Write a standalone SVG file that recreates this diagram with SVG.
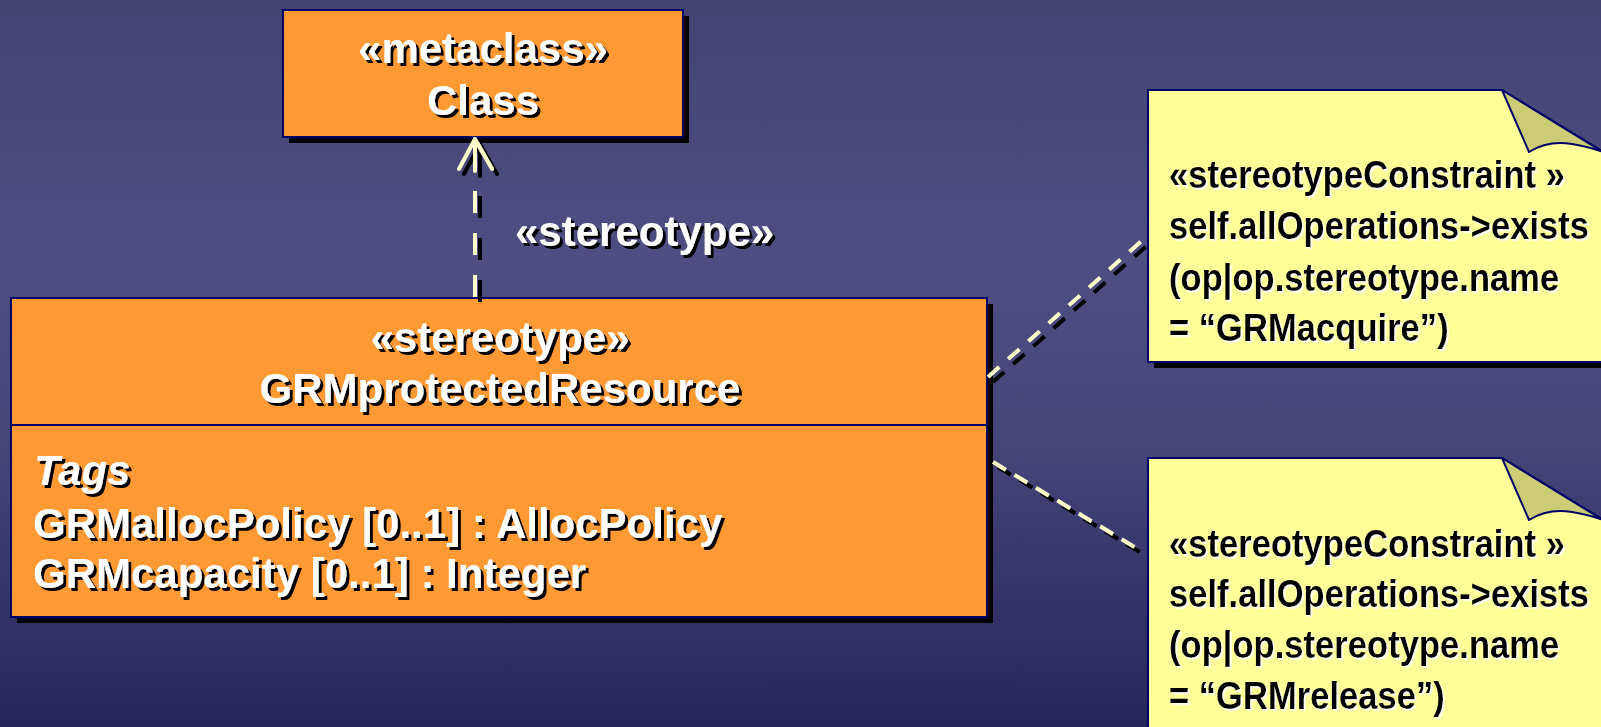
<svg xmlns="http://www.w3.org/2000/svg" width="1601" height="727" viewBox="0 0 1601 727">
  <defs>
    <linearGradient id="bg" x1="0" y1="0" x2="0" y2="1">
      <stop offset="0" stop-color="#434372"/>
      <stop offset="0.35" stop-color="#4E4E83"/>
      <stop offset="0.6" stop-color="#464679"/>
      <stop offset="0.82" stop-color="#34346A"/>
      <stop offset="1" stop-color="#26265A"/>
    </linearGradient>
    <!-- hard black shadow under white labels -->
    <filter id="darkShadow" x="-5%" y="-20%" width="110%" height="140%">
      <feDropShadow dx="3" dy="3" stdDeviation="0" flood-color="#000000" flood-opacity="1"/>
    </filter>
    <!-- light halo under note text -->
    <filter id="lightShadow" x="-5%" y="-20%" width="110%" height="140%">
      <feDropShadow dx="2" dy="2" stdDeviation="0" flood-color="#FFFFFF" flood-opacity="0.85"/>
    </filter>
    <!-- offset shadow for connector strokes -->
    <filter id="lineShadow" x="-20%" y="-20%" width="140%" height="140%">
      <feDropShadow dx="5" dy="5" stdDeviation="0" flood-color="#000000" flood-opacity="1"/>
    </filter>
  </defs>
  <style>
    .box { fill: #FF9933; stroke: #000066; stroke-width: 2; }
    .note { fill: #FFFF99; stroke: #000066; stroke-width: 2; }
    .fold { fill: #CCCC77; stroke: #000066; stroke-width: 2; stroke-linejoin: round; }
    .shadow { fill: #000000; }
    .divider { stroke: #000066; stroke-width: 2; }
    .wt { font-family: "Liberation Sans", Arial, sans-serif; font-weight: bold; font-size: 42px; fill: #FFFFFF; filter: url(#darkShadow); }
    .it { font-style: italic; }
    .mid { text-anchor: middle; }
    .nt { font-family: "Liberation Sans", Arial, sans-serif; font-weight: bold; font-size: 39px; fill: #000000; filter: url(#lightShadow); }
    .dash { fill: none; stroke: #FFFFCC; stroke-width: 4; }
    .arrowhead { fill: none; stroke: #FFFFCC; stroke-width: 4; stroke-linecap: round; stroke-linejoin: round; }
  </style>

  <rect x="0" y="0" width="1601" height="727" fill="url(#bg)"/>

  <!-- metaclass Class -->
  <g id="metaclass-class">
    <rect class="shadow" x="289" y="16" width="400" height="127"/>
    <rect class="box" x="283" y="10" width="400" height="127"/>
    <text class="wt mid" x="483" y="63">«metaclass»</text>
    <text class="wt mid" x="483" y="115">Class</text>
  </g>

  <!-- stereotype GRMprotectedResource -->
  <g id="grm-protected-resource">
    <rect class="shadow" x="17" y="304" width="976" height="319"/>
    <rect class="box" x="11" y="298" width="976" height="319"/>
    <line class="divider" x1="11" y1="425" x2="987" y2="425"/>
    <text class="wt mid" x="500" y="352">«stereotype»</text>
    <text class="wt mid" x="500" y="403">GRMprotectedResource</text>
    <text class="wt it" x="34" y="485">Tags</text>
    <text class="wt" x="33" y="538">GRMallocPolicy [0..1] : AllocPolicy</text>
    <text class="wt" x="33" y="588">GRMcapacity [0..1] : Integer</text>
  </g>

  <!-- constraint note: acquire -->
  <g id="note-acquire">
    <path class="shadow" transform="translate(6,6)" d="M1148,90 H1502 L1612,157 V362 H1148 Z"/>
    <path class="note" d="M1148,90 H1502 L1612,157 V362 H1148 Z"/>
    <path class="fold" d="M1502,90 L1529,152 Q1548,140 1572,144 Q1590,147 1603,152 Z"/>
    <!-- condensed text block -->
    <g transform="translate(1169,0) scale(0.887,1)">
      <text class="nt" x="0" y="188">«stereotypeConstraint »</text>
      <text class="nt" x="0" y="239">self.allOperations-&gt;exists</text>
      <text class="nt" x="0" y="291">(op|op.stereotype.name</text>
      <text class="nt" x="0" y="341">= “GRMacquire”)</text>
    </g>
  </g>

  <!-- constraint note: release -->
  <g id="note-release">
    <path class="shadow" transform="translate(6,6)" d="M1148,458 H1502 L1612,525 V740 H1148 Z"/>
    <path class="note" d="M1148,458 H1502 L1612,525 V740 H1148 Z"/>
    <path class="fold" d="M1502,458 L1529,520 Q1548,508 1572,512 Q1590,515 1603,520 Z"/>
    <!-- condensed text block -->
    <g transform="translate(1169,0) scale(0.887,1)">
      <text class="nt" x="0" y="557">«stereotypeConstraint »</text>
      <text class="nt" x="0" y="607">self.allOperations-&gt;exists</text>
      <text class="nt" x="0" y="658">(op|op.stereotype.name</text>
      <text class="nt" x="0" y="709">= “GRMrelease”)</text>
    </g>
  </g>

  <!-- connectors -->
  <g id="connectors" filter="url(#lineShadow)">
    <line class="dash" x1="475" y1="297" x2="475" y2="171" stroke-dasharray="22 20"/>
    <path class="arrowhead" d="M459,169 L475,139 L492,169 M475,139 V171"/>
    <line class="dash" x1="988" y1="377" x2="1146" y2="237" stroke-dasharray="15 12"/>
    <line class="dash" x1="993" y1="462" x2="1143" y2="552" stroke-dasharray="15 10"/>
  </g>

  <text id="stereotype-label" class="wt" x="515" y="246">«stereotype»</text>
</svg>
